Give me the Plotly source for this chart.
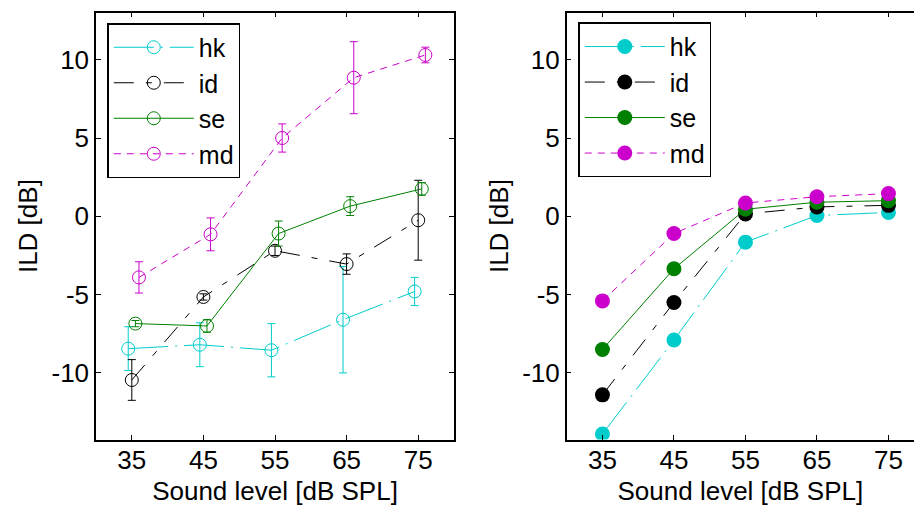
import plotly.graph_objects as go

# Sound levels (dB SPL) and axis ticks
levels = [35, 45, 55, 65, 75]
x_ticks = [35, 45, 55, 65, 75]
y_ticks = [-10, -5, 0, 5, 10]
y_tick_text = ["-10", "-5", "0", "5", "10"]
subjects = ["hk", "id", "se", "md"]

# Measured ILD: mean and spread per subject
ild_hk = [-8.45, -8.2, -8.55, -6.6, -4.8]
ild_id = [-10.45, -5.15, -2.2, -3.05, -0.25]
ild_se = [-6.85, -7.0, -1.1, 0.65, 1.75]
ild_md = [-3.9, -1.15, 5.0, 8.85, 10.3]
err_hk = [1.4, 1.4, 1.7, 3.4, 0.9]
err_id = [1.3, 0.2, 0.3, 0.65, 2.55]
err_se = [0.2, 0.4, 0.8, 0.6, 0.4]
err_md = [1.0, 1.05, 0.9, 2.3, 0.5]

# Model ILD per subject
model_hk = [-13.9, -7.9, -1.65, 0.05, 0.25]
model_id = [-11.4, -5.5, 0.15, 0.6, 0.7]
model_se = [-8.5, -3.35, 0.45, 0.9, 1.0]
model_md = [-5.4, -1.1, 0.85, 1.25, 1.45]

measured = {"hk": ild_hk, "id": ild_id, "se": ild_se, "md": ild_md}
spread = {"hk": err_hk, "id": err_id, "se": err_se, "md": err_md}
model = {"hk": model_hk, "id": model_id, "se": model_se, "md": model_md}

# small horizontal jitter so the error bars do not overlap
jitter = {"hk": -0.5, "id": 0.0, "se": 0.5, "md": 1.0}

colors = {"hk": "#00CCCC", "id": "#000000", "se": "#008000", "md": "#CC00CC"}
dashes = {"hk": "40px,7px,2px,7px", "id": "20px,12px,6px,12px",
          "se": "solid", "md": "7px,6px"}

FONT = "Liberation Sans, Arial, Helvetica, sans-serif"
FS = 26

fig = go.Figure()

for s in subjects:
    fig.add_trace(go.Scatter(
        x=[v + jitter[s] for v in levels], y=measured[s],
        name=s, mode="lines+markers",
        line=dict(color=colors[s], width=1, dash=dashes[s]),
        marker=dict(symbol="circle-open", size=13, color=colors[s],
                    line=dict(width=1, color=colors[s])),
        error_y=dict(type="data", array=spread[s], color=colors[s],
                     thickness=1, width=4),
        xaxis="x", yaxis="y", legend="legend", legendgroup="a" + s,
    ))

for s in subjects:
    fig.add_trace(go.Scatter(
        x=levels, y=model[s],
        name=s, mode="lines+markers",
        line=dict(color=colors[s], width=1, dash=dashes[s]),
        marker=dict(symbol="circle", size=15, color=colors[s]),
        xaxis="x2", yaxis="y2", legend="legend2", legendgroup="b" + s,
    ))

W, H = 914, 506
top_px, bot_px = 12.7, 439.5
ydom = [1 - bot_px / H, 1 - top_px / H]

axis_common = dict(
    showline=True, linecolor="black", linewidth=1.5,
    ticks="inside", ticklen=5, tickwidth=1, tickcolor="black",
    showgrid=False, zeroline=False,
    tickfont=dict(family=FONT, size=FS, color="black"),
)
title_font = dict(family=FONT, size=FS, color="black")

legend_common = dict(
    bgcolor="white", bordercolor="black", borderwidth=1.5,
    font=dict(family=FONT, size=25, color="black"),
    xanchor="left", yanchor="top", tracegroupgap=2,
    itemwidth=80, traceorder="normal",
)

fig.update_layout(
    width=W, height=H,
    margin=dict(l=0, r=0, t=0, b=0),
    paper_bgcolor="white", plot_bgcolor="white",
    showlegend=True,
    xaxis=dict(domain=[96 / W, 454 / W], range=[30, 80], tickvals=x_ticks,
               mirror="allticks", anchor="y", ticklabelstandoff=-3,
               title=dict(text="Sound level [dB SPL]", font=title_font,
                          standoff=13),
               **axis_common),
    yaxis=dict(domain=ydom, range=[-14.25, 13], tickvals=y_ticks,
               ticktext=y_tick_text,
               mirror="allticks", anchor="x",
               title=dict(text="ILD [dB]", font=title_font, standoff=6),
               **axis_common),
    xaxis2=dict(domain=[566.7 / W, 1.0], range=[30, 30 + (W - 566.7) / 7.15],
                tickvals=x_ticks, mirror="ticks", anchor="y2",
                ticklabelstandoff=-3,
                title=dict(text="Sound level [dB SPL]", font=title_font,
                           standoff=13),
                **axis_common),
    yaxis2=dict(domain=ydom, range=[-14.25, 13], tickvals=y_ticks,
                ticktext=y_tick_text,
                mirror=False, anchor="x2",
                title=dict(text="ILD [dB]", font=title_font, standoff=6),
                **axis_common),
    legend=dict(x=107.3 / W, y=1 - 23 / H, **legend_common),
    legend2=dict(x=578.3 / W, y=1 - 22.3 / H, **legend_common),
)

fig.write_html("out.html")
